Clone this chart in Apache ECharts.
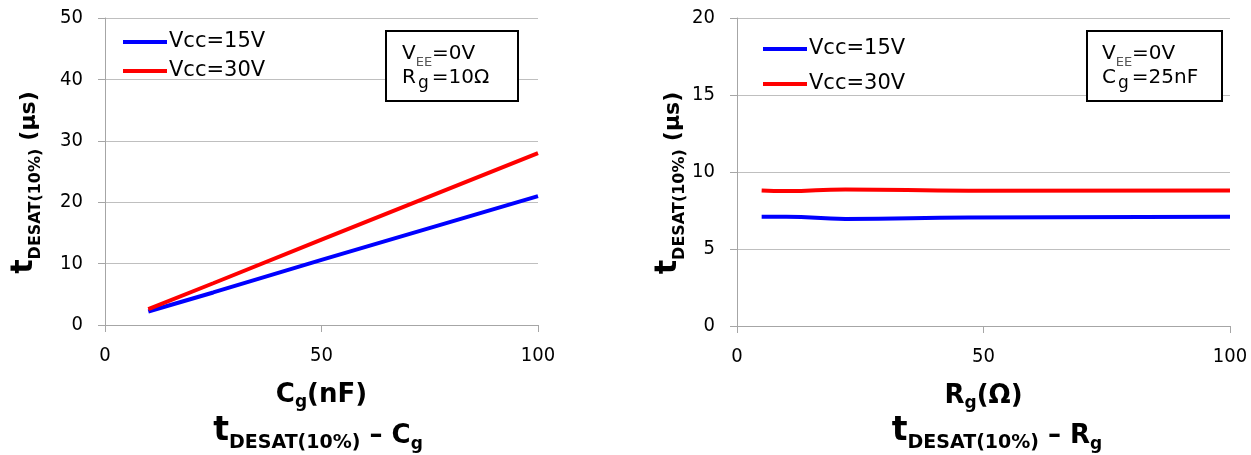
<!DOCTYPE html>
<html><head><meta charset="utf-8">
<script src="https://cdn.jsdelivr.net/npm/echarts@6/dist/echarts.min.js"></script>
<style>html,body{margin:0;padding:0;background:#fff}#c{width:1251px;height:455px}</style>
</head><body><div id="c"></div>
<script>
// Left chart: t_DESAT(10%) vs Cg
const cgValues = [10, 25, 50, 100];
const cgVcc15 = [2.2, 5.3, 10.6, 21.0];
const cgVcc30 = [2.6, 6.8, 13.9, 28.0];
// Right chart: t_DESAT(10%) vs Rg
const rgValues = [5, 10, 22, 47, 100];
const rgVcc15 = [7.1, 7.1, 6.95, 7.05, 7.1];
const rgVcc30 = [8.8, 8.76, 8.87, 8.78, 8.8];
const seriesNames = ['Vcc=15V', 'Vcc=30V'];
const leftYTicks = [0, 10, 20, 30, 40, 50];
const rightYTicks = [0, 5, 10, 15, 20];
const xTicks = [0, 50, 100];

const BLUE = '#0000ff', RED = '#ff0000';
const FONT = 'DejaVu Sans';
const CFONT = 'DejaVu Sans Condensed';

function pairs(xs, ys) { return xs.map((x, i) => [x, ys[i]]); }
function tok(size, lh, drop, extra) {
  const pad = (extra && extra.padding) ? extra.padding.slice() : [0, 0, 0, 0];
  pad[2] = -drop;
  return Object.assign({ fontFamily: FONT, fontWeight: 'bold', fontSize: size, color: '#000', verticalAlign: 'bottom', lineHeight: lh }, extra || {}, { padding: pad });
}

function xAxis(gi, nameRich) {
  return {
    type: 'value', gridIndex: gi, min: xTicks[0], max: xTicks[xTicks.length - 1], interval: xTicks[1] - xTicks[0],
    axisLine: { show: true, lineStyle: { color: '#a6a6a6', width: 1 } },
    axisTick: { show: true, length: 7, lineStyle: { color: '#a6a6a6' } },
    splitLine: { show: false },
    axisLabel: { fontFamily: CFONT, fontSize: 20, color: '#000', margin: 21 },
    name: nameRich, nameLocation: 'middle', nameGap: 49,
    nameTextStyle: { padding: 0, rich: { b: tok(26, 34, 0), s: tok(17, 34, 3) } }
  };
}
function yAxis(gi, ticks, gap) {
  return {
    type: 'value', gridIndex: gi, min: ticks[0], max: ticks[ticks.length - 1], interval: ticks[1] - ticks[0],
    axisLine: { show: true, lineStyle: { color: '#a6a6a6', width: 1 } },
    axisTick: { show: true, length: 7, lineStyle: { color: '#a6a6a6' } },
    splitLine: { show: true, lineStyle: { color: '#bfbfbf', width: 1 } },
    axisLabel: { fontFamily: CFONT, fontSize: 20, color: '#000', margin: 22 },
    name: '{b|t}{s|DESAT(10%)}{c|(μs)}', nameLocation: 'middle', nameGap: gap, nameRotate: 90,
    nameTextStyle: { padding: 0, rich: {
      b: tok(30, 37, 0), s: tok(16, 37, 5), c: tok(22, 37, 1.5, { padding: [0, 22, 0, 8] })
    } }
  };
}
function lineSeries(name, data, xi, smooth, color) {
  return { type: 'line', name: name, xAxisIndex: xi, yAxisIndex: xi, data: data, smooth: smooth,
    showSymbol: false, symbol: 'none', lineStyle: { color: color, width: 4 }, itemStyle: { color: color } };
}
function legend(left, top, gap) {
  return { orient: 'vertical', left: left, top: top, padding: 0, icon: 'rect', itemWidth: 44, itemHeight: 4, itemGap: gap,
    data: seriesNames.map(n => ({ name: n })),
    textStyle: { fontFamily: FONT, fontSize: 21, color: '#000', lineHeight: 24, padding: [0, 0, 0, -3] } };
}
const titleRich = { t: tok(33, 39, 0), s: tok(19, 39, 5), b: tok(26, 39, 1), g: tok(17, 39, 5) };
const boxRich = {
  a: { fontFamily: FONT, fontSize: 20, fill: '#000', verticalAlign: 'bottom', lineHeight: 24 },
  s: { fontFamily: FONT, fontSize: 13, fill: '#555', verticalAlign: 'bottom', lineHeight: 24, padding: [0, 0, -5, 0] },
  g: { fontFamily: FONT, fontSize: 17, fill: '#000', verticalAlign: 'bottom', lineHeight: 24, padding: [0, 3, -4, 2] }
};

const option = {
  animation: false,
  backgroundColor: '#fff',
  grid: [
    { left: 105, right: 713, top: 18, bottom: 130 },
    { left: 737, right: 21, top: 18, bottom: 129 }
  ],
  xAxis: [ xAxis(0, '{b|C}{s|g}{b|(nF)}'), xAxis(1, '{b|R}{s|g}{b|(Ω)}') ],
  yAxis: [ yAxis(0, leftYTicks, 66), yAxis(1, rightYTicks, 41) ],
  legend: [ legend(123, 30, 5), legend(763, 37, 11) ],
  title: [
    { text: '{t|t}{s|DESAT(10%)}{b| – C}{g|g}', left: 318, top: 409, textAlign: 'center', padding: 0,
      textStyle: { rich: titleRich } },
    { text: '{t|t}{s|DESAT(10%)}{b| – R}{g|g}', left: 997, top: 409, textAlign: 'center', padding: 0,
      textStyle: { rich: titleRich } }
  ],
  graphic: [
    { type: 'rect', shape: { x: 386, y: 31, width: 132, height: 70 }, style: { fill: '#fff', stroke: '#000', lineWidth: 2 }, z: 10 },
    { type: 'text', x: 402, y: 40, z: 11, style: { text: '{a|V}{s|EE}{a|=0V}\n{a|R}{g|g}{a|=10Ω}', rich: boxRich } },
    { type: 'rect', shape: { x: 1087, y: 31, width: 135, height: 70 }, style: { fill: '#fff', stroke: '#000', lineWidth: 2 }, z: 10 },
    { type: 'text', x: 1102, y: 40, z: 11, style: { text: '{a|V}{s|EE}{a|=0V}\n{a|C}{g|g}{a|=25nF}', rich: boxRich } }
  ],
  series: [
    lineSeries(seriesNames[0], pairs(cgValues, cgVcc15), 0, false, BLUE),
    lineSeries(seriesNames[1], pairs(cgValues, cgVcc30), 0, false, RED),
    lineSeries(seriesNames[0], pairs(rgValues, rgVcc15), 1, true, BLUE),
    lineSeries(seriesNames[1], pairs(rgValues, rgVcc30), 1, true, RED)
  ]
};
const chart = echarts.init(document.getElementById('c'), null, { renderer: 'canvas' });
chart.setOption(option);
</script></body></html>
